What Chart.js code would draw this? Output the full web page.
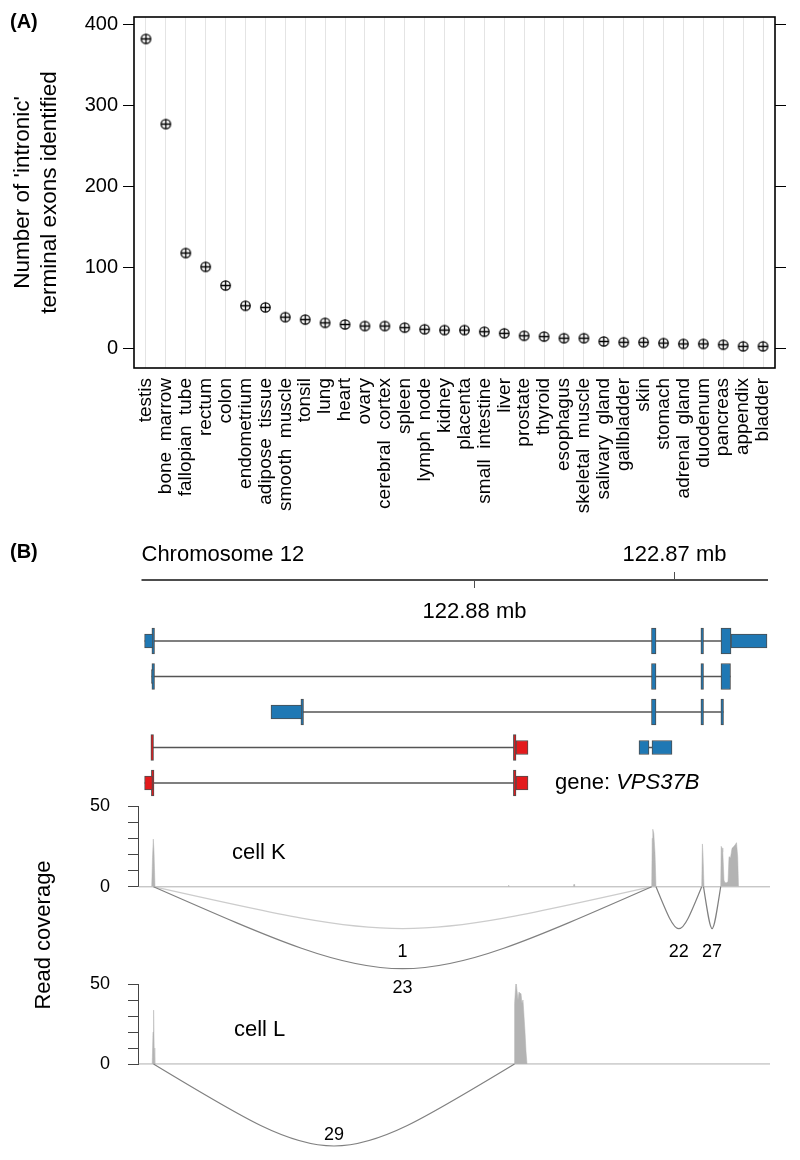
<!DOCTYPE html>
<html>
<head>
<meta charset="utf-8">
<script src="https://cdn.jsdelivr.net/npm/chart.js@4.4.1/dist/chart.umd.min.js"></script>
<style>
  body { margin: 0; background: #fff; width: 800px; height: 1160px; position: relative; overflow: hidden; }
  canvas { position: absolute; left: 0; }
  #panelA { top: 0; }
  #panelB { top: 530px; }
</style>
</head>
<body>
<canvas id="panelA" width="800" height="530"></canvas>
<canvas id="panelB" width="800" height="630"></canvas>
<script>
// ---- panel A : intronic terminal exons per tissue ----
const tissues = ['testis', 'bone  marrow', 'fallopian  tube', 'rectum', 'colon', 'endometrium',
  'adipose  tissue', 'smooth  muscle', 'tonsil', 'lung', 'heart', 'ovary', 'cerebral  cortex',
  'spleen', 'lymph  node', 'kidney', 'placenta', 'small  intestine', 'liver', 'prostate',
  'thyroid', 'esophagus', 'skeletal  muscle', 'salivary  gland', 'gallbladder', 'skin',
  'stomach', 'adrenal  gland', 'duodenum', 'pancreas', 'appendix', 'bladder'];
const exonCounts = [382, 277, 118, 101, 78, 53, 51, 39, 36, 32, 30, 28, 28, 26, 24, 23,
  23, 21, 19, 16, 15, 13, 13, 9, 8, 8, 7, 6, 6, 5, 3, 3];

// ---- panel B : VPS37B locus (chr12, bp) ----
const regionStart = 122896610;
const regionEnd = 122865285;
const axisTicks = [122880000, 122870000];
const txRow = [0, 1, 2, 3, 3, 4];
const txUtr = [
  [[122896455, 122896035], [122867135, 122865335]],
  [[122896110, 122896035]],
  [[122890135, 122888585]],
  [[122877885, 122877285]],
  [[122871735, 122871235], [122871085, 122870085]],
  [[122896455, 122896060], [122877885, 122877285]]
];
const txCds = [
  [[122896035, 122895960], [122871110, 122870885], [122868585, 122868510], [122867635, 122867135]],
  [[122896035, 122895960], [122871110, 122870885], [122868585, 122868510], [122867635, 122867160]],
  [[122888585, 122888510], [122871110, 122870885], [122868585, 122868510], [122867585, 122867510]],
  [[122896085, 122896010], [122877960, 122877885]],
  [],
  [[122896060, 122895985], [122877960, 122877885]]
];
const covKPos = [122896785, 122896100, 122896060, 122896020, 122895985, 122895935, 122878285,
  122878255, 122878225, 122875015, 122874985, 122874955, 122871100, 122871075, 122871045,
  122870995, 122870935, 122870885, 122868600, 122868565, 122868535, 122868485, 122867650,
  122867625, 122867585, 122867545, 122867485, 122867435, 122867360, 122867285, 122867235,
  122867160, 122867085, 122866985, 122866910, 122866860, 122866800, 122866760, 122865185];
const covKVal = [0, 0, 18, 29.5, 22, 0, 0, 1, 0, 0, 1.5, 0, 0, 30, 35.6, 33, 21, 0, 0, 26.5,
  20, 0, 0, 25, 24, 21.7, 4, 2.5, 2.5, 3, 18.6, 18, 23.8, 25, 26.3, 27.3, 18.6, 0, 0];
const covLPos = [122896785, 122896075, 122896035, 122896005, 122895975, 122895945, 122877985,
  122877955, 122877920, 122877885, 122877835, 122877785, 122877735, 122877685, 122877635,
  122877585, 122877535, 122877485, 122877435, 122877385, 122877335, 122865185];
const covLVal = [0, 0, 20, 33.7, 10, 0, 0, 38, 45, 52.5, 46, 40, 45, 44, 44, 38, 40, 30, 20, 8, 0, 0];
const junKFrom = [122896010, 122896010, 122870885, 122868510];
const junKTo = [122871100, 122871100, 122868600, 122867650];
const junKCount = [1, 23, 22, 27];
const junLFrom = [122896010];
const junLTo = [122877960];
const junLCount = [29];

// styling only
const txFill = ['#1f78b4', '#1f78b4', '#1f78b4', '#e31a1c', '#1f78b4', '#e31a1c'];
const arcDepthK = [42, 82, 42, 42], arcLabelK = [65, 101, 65, 65];
const arcDepthL = [82], arcLabelL = [71];
const FONT = '"Liberation Sans", Arial, Helvetica, sans-serif';

Chart.defaults.font.family = FONT;
Chart.defaults.color = '#000';

// circle with plus, like R's pch=10
const marker = (function () {
  const c = document.createElement('canvas');
  c.width = 13; c.height = 13;
  const g = c.getContext('2d');
  g.strokeStyle = '#000';
  g.lineWidth = 1.3;
  g.beginPath(); g.arc(6.5, 6.5, 4.7, 0, Math.PI * 2); g.stroke();
  g.beginPath();
  g.moveTo(1.8, 6.5); g.lineTo(11.2, 6.5);
  g.moveTo(6.5, 1.8); g.lineTo(6.5, 11.2);
  g.stroke();
  return c;
})();

const frameA = {
  id: 'frameA',
  afterDatasetsDraw(chart) {
    const {ctx, chartArea: a} = chart;
    ctx.save();
    ctx.strokeStyle = '#000';
    ctx.lineWidth = 1.6;
    ctx.strokeRect(a.left, a.top, a.right - a.left, a.bottom - a.top);
    ctx.fillStyle = '#000';
    ctx.font = 'bold 20px ' + FONT;
    ctx.textBaseline = 'middle';
    ctx.fillText('(A)', 10, 22);
    ctx.restore();
  }
};

const yTickOpts = {stepSize: 100, includeBounds: false, padding: 5, font: {size: 20}};
new Chart(document.getElementById('panelA'), {
  type: 'scatter',
  data: {
    datasets: [{
      data: tissues.map((t, i) => ({x: i, y: exonCounts[i]})),
      pointStyle: marker,
      pointRadius: 6,
      pointHoverRadius: 6
    }]
  },
  options: {
    responsive: false,
    animation: false,
    events: [],
    layout: {padding: {top: 13}},
    plugins: {legend: {display: false}, tooltip: {enabled: false}},
    scales: {
      x: {
        type: 'linear', min: -0.6, max: 31.6,
        ticks: {stepSize: 1, autoSkip: false, includeBounds: false, minRotation: 90, maxRotation: 90,
          padding: 10, font: {size: 19}, callback: v => tissues[v] || ''},
        grid: {color: '#e4e4e4', drawTicks: false},
        border: {display: false},
        afterFit: s => { s.height = 162; }
      },
      y: {
        min: -23.7, max: 409,
        ticks: yTickOpts,
        grid: {drawOnChartArea: false, tickLength: 11, color: '#000'},
        border: {display: false},
        title: {display: true, text: ["Number of 'intronic'", 'terminal exons identified'],
          font: {size: 22.5}, padding: {top: 9.5, bottom: 0}},
        afterFit: s => { s.width = 134; }
      },
      y2: {
        position: 'right', min: -23.7, max: 409,
        ticks: Object.assign({}, yTickOpts, {display: false}),
        grid: {drawOnChartArea: false, tickLength: 11, color: '#000'},
        border: {display: false},
        afterFit: s => { s.width = 25; }
      }
    }
  },
  plugins: [frameA]
});

// ---- panel B ----
function drawArcs(ctx, xs, ys, from, to, counts, depth, labelDepth) {
  from.forEach((f, i) => {
    const x0 = xs.getPixelForValue(f), x1 = xs.getPixelForValue(to[i]);
    const y0 = ys.getPixelForValue(0);
    const yc = y0 + (ys.getPixelForValue(depth[i]) - y0) * 4 / 3;
    const xm = (x0 + x1) / 2;
    ctx.strokeStyle = counts[i] < 5 ? '#cccccc' : '#808080';
    ctx.lineWidth = 1.2;
    ctx.beginPath();
    ctx.moveTo(x0, y0);
    ctx.bezierCurveTo(xm, yc, xm, yc, x1, y0);
    ctx.stroke();
    ctx.fillStyle = '#000';
    ctx.font = '18px ' + FONT;
    ctx.textAlign = 'center';
    ctx.textBaseline = 'middle';
    ctx.fillText(String(counts[i]), xm, ys.getPixelForValue(labelDepth[i]));
  });
}

const trackB = {
  id: 'trackB',
  beforeDatasetsDraw(chart) {
    const {ctx, chartArea: a, scales: s} = chart;
    ctx.save();
    ctx.strokeStyle = '#d0d0d0';
    ctx.lineWidth = 1.5;
    [s.yCovK, s.yCovL].forEach(sc => {
      const y = sc.getPixelForValue(0);
      ctx.beginPath(); ctx.moveTo(a.left + 1, y); ctx.lineTo(a.right, y); ctx.stroke();
    });
    ctx.restore();
  },
  afterDatasetsDraw(chart) {
    const {ctx, chartArea: a, scales: s} = chart;
    const x = s.x;
    const top = s.yGene.top;
    ctx.save();
    drawArcs(ctx, x, s.yArcK, junKFrom, junKTo, junKCount, arcDepthK, arcLabelK);
    drawArcs(ctx, x, s.yArcL, junLFrom, junLTo, junLCount, arcDepthL, arcLabelL);

    // genome axis
    const ay = top + 50;
    const x0 = x.getPixelForValue(regionStart), x1 = x.getPixelForValue(regionEnd);
    ctx.strokeStyle = '#4d4d4d';
    ctx.lineWidth = 2;
    ctx.beginPath(); ctx.moveTo(x0, ay); ctx.lineTo(x1, ay); ctx.stroke();
    ctx.fillStyle = '#000';
    ctx.font = '22px ' + FONT;
    ctx.textBaseline = 'middle';
    ctx.lineWidth = 1;
    axisTicks.forEach((t, i) => {
      const px = Math.round(x.getPixelForValue(t)) + 0.5;
      const up = i % 2 === 1;
      ctx.beginPath(); ctx.moveTo(px, ay); ctx.lineTo(px, up ? ay - 8 : ay + 8); ctx.stroke();
      ctx.textAlign = 'center';
      ctx.fillText((t / 1e6).toFixed(2) + ' mb', px, up ? ay - 25 : ay + 32);
    });
    ctx.textAlign = 'left';
    ctx.fillText('Chromosome 12', x0, ay - 25);

    // gene name
    const gy = s.yGene.getPixelForValue(4);
    const gx = a.left + 417;
    ctx.fillText('gene: ', gx, gy);
    const w = ctx.measureText('gene: ').width;
    ctx.font = 'italic 22px ' + FONT;
    ctx.fillText('VPS37B', gx + w, gy);

    // track labels
    ctx.font = '22px ' + FONT;
    ctx.fillText('cell K', a.left + 94, s.yCovK.getPixelForValue(21));
    ctx.fillText('cell L', a.left + 96, s.yCovL.getPixelForValue(21));
    ctx.save();
    ctx.translate(44, (s.yCovK.top + s.yCovL.bottom) / 2);
    ctx.rotate(-Math.PI / 2);
    ctx.textAlign = 'center';
    ctx.fillText('Read coverage', 0, 0);
    ctx.restore();

    ctx.font = 'bold 20px ' + FONT;
    ctx.textAlign = 'left';
    ctx.fillText('(B)', 10, top + 22);
    ctx.restore();
  }
};

const datasetsB = [];
txRow.forEach((row, t) => {
  const all = txUtr[t].concat(txCds[t]).flat();
  datasetsB.push({
    type: 'line', xAxisID: 'x', yAxisID: 'yGene', order: 3,
    data: [{x: Math.max(...all), y: row}, {x: Math.min(...all), y: row}],
    borderColor: '#555', borderWidth: 1.6, pointRadius: 0
  });
  [[txUtr[t], 14, 0], [txCds[t], 26, 2.6]].forEach(([parts, h, minLen]) => {
    datasetsB.push({
      type: 'bar', indexAxis: 'y', xAxisID: 'x', yAxisID: 'yGene', stack: 'gene', order: 1,
      data: parts.map(p => ({x: p, y: row})),
      barThickness: h, minBarLength: minLen, backgroundColor: txFill[t], borderColor: '#4d4d4d',
      borderWidth: 1, borderSkipped: false
    });
  });
});
[['yCovK', covKPos, covKVal], ['yCovL', covLPos, covLVal]].forEach(([axis, pos, val]) => {
  datasetsB.push({
    type: 'line', xAxisID: 'x', yAxisID: axis, order: 2,
    data: pos.map((p, i) => ({x: p, y: val[i]})),
    fill: 'origin', backgroundColor: '#b3b3b3', borderColor: '#b3b3b3',
    borderWidth: 0.5, pointRadius: 0, tension: 0
  });
});

// every axis of the left stack gets the same width, so the plot starts at x=138
const fixLeft = sc => {
  sc.width = 138;
  sc.paddingTop = 0; sc.paddingBottom = 0; sc.paddingLeft = 0; sc.paddingRight = 0;
};
const covAxis = (weight, stackWeight) => ({
  axis: 'y', type: 'linear', min: 0, max: 50, offset: false, stack: 'b', stackWeight, weight,
  ticks: {stepSize: 10, autoSkip: false, padding: 18, font: {size: 18},
    callback: v => (v === 0 || v === 50) ? String(v) : ''},
  grid: {drawOnChartArea: false, tickLength: 10, color: '#444'},
  border: {display: true, color: '#444', width: 1},
  afterFit: fixLeft
});
const hiddenAxis = (min, max, weight, stackWeight) => ({
  axis: 'y', type: 'linear', min, max, reverse: true, offset: false, display: false,
  stack: 'b', stackWeight, weight, afterFit: fixLeft
});

new Chart(document.getElementById('panelB'), {
  type: 'line',
  data: {datasets: datasetsB},
  options: {
    responsive: false,
    animation: false,
    events: [],
    layout: {padding: {top: 0, right: 30, bottom: 0, left: 0}},
    plugins: {legend: {display: false}, tooltip: {enabled: false}},
    scales: {
      x: {type: 'linear', reverse: true, min: 122865185, max: 122896785, offset: false,
        stacked: false, display: false,
        afterFit: sc => { sc.paddingLeft = 0; sc.paddingRight = 0; }},
      yGene: hiddenAxis(-3.127, 4.648, 5, 276),
      yCovK: covAxis(4, 80.7),
      yArcK: hiddenAxis(0, 97.3, 3, 97.3),
      yCovL: covAxis(2, 80),
      yArcL: hiddenAxis(0, 96, 1, 96)
    }
  },
  plugins: [trackB]
});
</script>
</body>
</html>
